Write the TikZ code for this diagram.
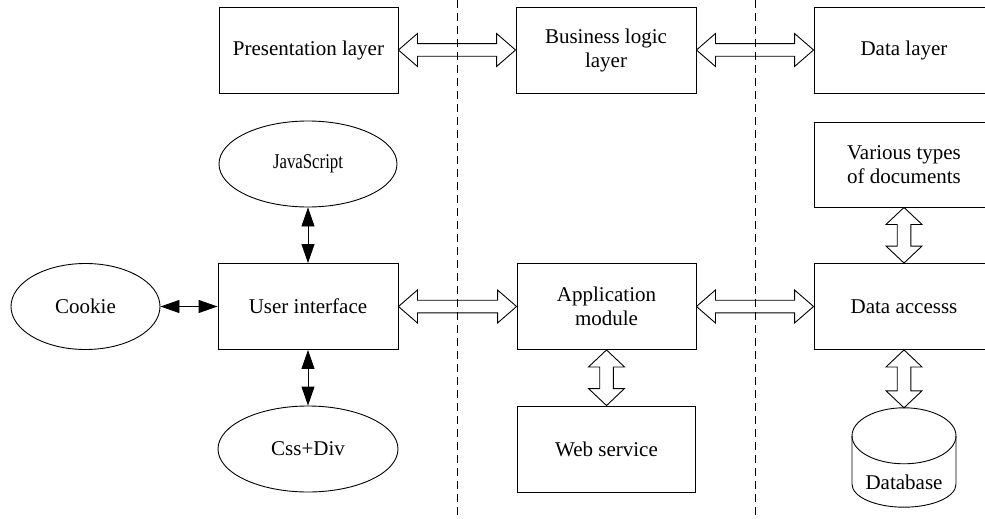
\documentclass[tikz,border=0pt]{standalone}
\usepackage{fontspec}
\usepackage{graphicx}
\setmainfont{Liberation Serif}
\usetikzlibrary{calc,arrows.meta}
\tikzset{
  box/.style={draw, line width=0.9pt, minimum width=180pt, minimum height=86pt, align=center, inner sep=2pt, font=\fontsize{21}{24}\selectfont},
  ell/.style={draw, line width=0.9pt, ellipse, minimum width=178pt, minimum height=86pt, inner sep=0pt, font=\fontsize{21}{24}\selectfont},
  fat/.style={draw, line width=0.9pt, line join=miter},
  solidarrow/.style={line width=0.9pt, {Triangle[length=19pt,width=13pt]}-{Triangle[length=19pt,width=13pt]}},
  sepline/.style={line width=0.8pt, dash pattern=on 8pt off 5pt}
}
\usetikzlibrary{shapes.geometric}
\newcommand{\fatH}[2]{\draw[fat] (#1) -- ++(19,-16.5) -- ++(0,10.2) -- ($(#2)+(-19,-6.3)$) -- ++(0,-10.2) -- (#2) -- ++(-19,16.5) -- ++(0,-10.2) -- ($(#1)+(19,6.3)$) -- ++(0,10.2) -- cycle;}
\newcommand{\fatV}[2]{\draw[fat] (#1) -- ++(-18,17) -- ++(11.2,0) -- ($(#2)+(-6.8,-17)$) -- ++(-11.2,0) -- (#2) -- ++(18,-17) -- ++(-11.2,0) -- ($(#1)+(6.8,17)$) -- ++(11.2,0) -- cycle;}
\begin{document}
\begin{tikzpicture}[x=1pt,y=-1pt]
\useasboundingbox (0,0) rectangle (985,519);
\clip (0,0) rectangle (985,519);
% top row
\node[box, minimum width=179pt] (pres) at (308.5,50) {Presentation layer};
\node[box] (biz) at (606,50) {Business logic\\layer};
\node[box] (datal) at (904,50) {Data layer};
% left column
\node[ell] (js) at (308,164) {\scalebox{0.8}[1]{JavaScript}};
\node[box] (ui) at (308,306.5) {User interface};
\node[ell, minimum width=149pt] (cookie) at (85.5,306.5) {Cookie};
\node[ell, minimum width=180pt] (css) at (308,449) {Css+Div};
% middle column
\node[box, minimum width=179pt] (app) at (606.5,306.5) {Application\\module};
\node[box, minimum width=178pt] (web) at (606.5,449) {Web service};
% right column
\node[box, minimum height=85pt] (docs) at (904,164.5) {Various types\\of documents};
\node[box] (acc) at (904,306.5) {Data accesss};
\node[minimum width=104pt, minimum height=99pt, inner sep=0pt] (db) at (904,457.5) {};
\draw[line width=0.9pt] ($(db.north)+(-52,28)$) -- ($(db.south)+(-52,-23)$)
  arc[start angle=180, end angle=360, x radius=52pt, y radius=23pt]
  -- ($(db.north)+(52,28)$);
\draw[line width=0.9pt] ($(db.north)+(0,28)$) ellipse[x radius=52pt, y radius=28pt];
\node[font=\fontsize{21}{24}\selectfont] (dbtext) at (904,482) {Database};
% fat double arrows
\fatH{pres.east}{biz.west}
\fatH{biz.east}{datal.west}
\fatH{ui.east}{app.west}
\fatH{app.east}{acc.west}
\fatV{app.south}{web.north}
\fatV{docs.south}{acc.north}
\fatV{acc.south}{db.north}
% solid double arrows
\draw[solidarrow] (cookie.east) -- (ui.west);
\draw[solidarrow] (js.south) -- (ui.north);
\draw[solidarrow] (ui.south) -- (css.north);
% separators
\draw[sepline] (457.5,0) -- (457.5,519);
\draw[sepline] (755,0) -- (755,519);
\end{tikzpicture}
\end{document}
